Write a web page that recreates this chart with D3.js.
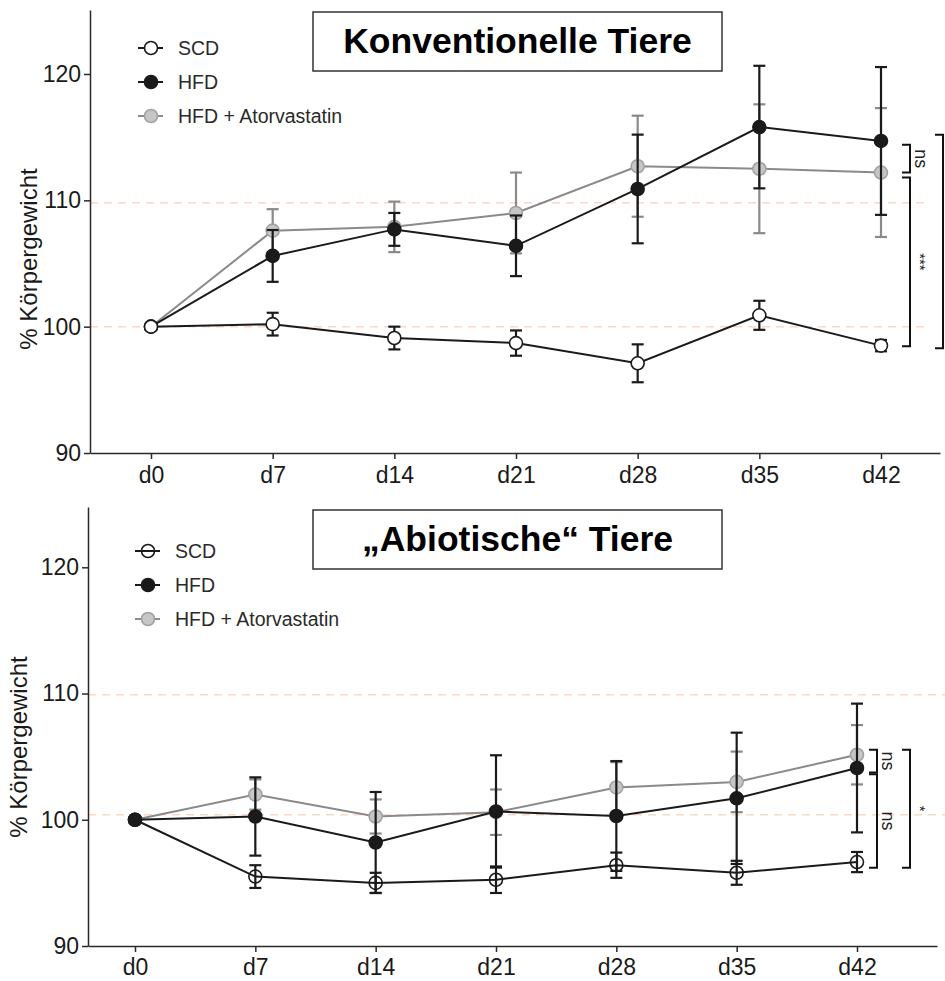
<!DOCTYPE html>
<html>
<head>
<meta charset="utf-8">
<script src="https://cdn.jsdelivr.net/npm/d3@7"></script>
<style>
  body { margin: 0; background: #fff; }
  svg { display: block; font-family: Arial, "Liberation Sans", Helvetica, sans-serif; }
</style>
</head>
<body>
<div id="chart"></div>
<script>
// Tage und Beschriftungen
const days = [0, 7, 14, 21, 28, 35, 42];
const dayLabels = ["d0", "d7", "d14", "d21", "d28", "d35", "d42"];
const yTicks = [90, 100, 110, 120];
const seriesNames = ["SCD", "HFD", "HFD + Atorvastatin"];

// Konventionelle Tiere (Mittelwert / Fehler)
const scdKonv = [100, 100.2, 99.1, 98.7, 97.1, 100.9, 98.5];
const scdKonvErr = [0, 0.9, 0.9, 1.0, 1.5, 1.15, 0.45];
const hfdKonv = [100, 105.6, 107.7, 106.4, 110.9, 115.8, 114.7];
const hfdKonvErr = [0, 2.05, 1.3, 2.4, 4.3, 4.85, 5.85];
const atorKonv = [100, 107.6, 107.9, 109.0, 112.7, 112.5, 112.2];
const atorKonvErr = [0, 1.7, 2.0, 3.2, 4.0, 5.1, 5.1];
const refKonv = [109.8, 100];

// "Abiotische" Tiere
const scdAbio = [100, 95.5, 95.0, 95.25, 96.4, 95.8, 96.65];
const scdAbioErr = [0, 0.9, 0.8, 1.05, 1.0, 0.95, 0.8];
const hfdAbio = [100, 100.26, 98.2, 100.66, 100.3, 101.7, 104.1];
const hfdAbioErr = [0, 3.1, 4.0, 4.45, 4.35, 5.2, 5.1];
const atorAbio = [100, 102.0, 100.26, 100.6, 102.56, 103.0, 105.15];
const atorAbioErr = [0, 1.2, 1.35, 1.8, 2.0, 2.4, 2.35];
const refAbio = [109.9, 100.4];

// Signifikanz-Klammern: von/bis (Wert), Text, Spalte
const bracketsKonv = [
  { from: 114.4, to: 112.2, label: "ns", col: 0 },
  { from: 111.8, to: 98.45, label: "***", col: 0 },
  { from: 115.2, to: 98.3, label: "", col: 1 }
];
const bracketsAbio = [
  { from: 105.55, to: 103.75, label: "ns", col: 0 },
  { from: 103.6, to: 96.2, label: "ns", col: 0 },
  { from: 105.55, to: 96.2, label: "*", col: 1 }
];

const W = 945, H = 981;
const svg = d3.select("#chart").append("svg").attr("width", W).attr("height", H);

const BLACK = "#1a1a1a", GREY_LINE = "#8a8a8a", GREY_FILL = "#c6c6c6", GREY_STROKE = "#a2a2a2";

function panel(cfg) {
  const g = svg.append("g");
  const x = d3.scaleLinear().domain([0, 42]).range([cfg.x0, cfg.x42]);
  const y = d3.scaleLinear().domain([90, 120]).range([cfg.y90, cfg.y120]);

  // Referenzlinien
  g.selectAll(".ref").data(cfg.ref).enter().append("line")
    .attr("x1", cfg.axisLeft).attr("x2", cfg.refRight)
    .attr("y1", d => y(d)).attr("y2", d => y(d))
    .attr("stroke", "#f6d9c8").attr("stroke-width", 1.5)
    .attr("stroke-dasharray", "8,6");

  // Achsen
  const xa = x.copy().domain([x.invert(cfg.axisLeft), x.invert(cfg.axisRight)]).range([cfg.axisLeft, cfg.axisRight]);
  const ya = y.copy().domain([90, y.invert(cfg.axisTop)]).range([cfg.y90, cfg.axisTop]);

  const gx = g.append("g").attr("transform", `translate(0,${cfg.y90})`)
    .call(d3.axisBottom(xa).tickValues(days).tickFormat((d, i) => dayLabels[i])
      .tickSize(6).tickSizeOuter(0).tickPadding(cfg.xPad));
  const gy = g.append("g").attr("transform", `translate(${cfg.axisLeft},0)`)
    .call(d3.axisLeft(ya).tickValues(yTicks).tickSize(6).tickSizeOuter(0).tickPadding(3));
  [gx, gy].forEach(a => {
    a.selectAll("path, line").attr("stroke", "#2a2a2a").attr("stroke-width", 1.5);
    a.selectAll("text").attr("fill", "#1a1a1a").style("font-size", "23px").style("font-family", "Arial, 'Liberation Sans', sans-serif");
  });

  g.append("text")
    .attr("transform", `translate(${cfg.yLabelX},${cfg.yLabelY}) rotate(-90)`)
    .attr("text-anchor", "middle").style("font-size", "24px").attr("fill", "#1a1a1a")
    .text("% Körpergewicht");

  // Titelbox
  g.append("rect").attr("x", 313).attr("y", cfg.boxY).attr("width", 409).attr("height", 59)
    .attr("fill", "#fff").attr("stroke", "#333").attr("stroke-width", 1.5);
  g.append("text").attr("x", 517.5).attr("y", cfg.boxY + 41).attr("text-anchor", "middle")
    .style("font-size", "35.5px").style("font-weight", "bold").attr("fill", "#000")
    .text(cfg.title);

  // Reihen
  const series = [
    { mean: cfg.ator, err: cfg.atorErr, line: GREY_LINE, fill: GREY_FILL, stroke: GREY_STROKE, bar: GREY_LINE },
    { mean: cfg.hfd, err: cfg.hfdErr, line: BLACK, fill: BLACK, stroke: BLACK, bar: BLACK },
    { mean: cfg.scd, err: cfg.scdErr, line: BLACK, fill: cfg.scdFill, stroke: BLACK, bar: BLACK }
  ];
  const line = d3.line().x((d, i) => x(days[i])).y(d => y(d));
  const drawOrder = cfg.hfdOnTop ? [0, 2, 1] : [0, 1, 2];

  drawOrder.forEach(k => {
    const s = series[k];
    const sg = g.append("g");
    sg.append("path").datum(s.mean).attr("d", line).attr("fill", "none")
      .attr("stroke", s.line).attr("stroke-width", 2);
    const eb = sg.selectAll(".eb").data(s.mean.map((m, i) => ({ m, e: s.err[i], d: days[i] })).filter(d => d.e > 0))
      .enter().append("g");
    eb.append("line").attr("x1", d => x(d.d)).attr("x2", d => x(d.d))
      .attr("y1", d => y(d.m + d.e)).attr("y2", d => y(d.m - d.e))
      .attr("stroke", s.bar).attr("stroke-width", 2.2);
    [1, -1].forEach(sign => {
      eb.append("line").attr("x1", d => x(d.d) - 6).attr("x2", d => x(d.d) + 6)
        .attr("y1", d => y(d.m + sign * d.e)).attr("y2", d => y(d.m + sign * d.e))
        .attr("stroke", s.bar).attr("stroke-width", 2.2);
    });
    sg.selectAll("circle").data(s.mean).enter().append("circle")
      .attr("cx", (d, i) => x(days[i])).attr("cy", d => y(d)).attr("r", 6.5)
      .attr("fill", s.fill).attr("stroke", s.stroke).attr("stroke-width", 1.6);
  });

  // Legende
  const legendSeries = [series[2], series[1], series[0]];
  legendSeries.forEach((s, i) => {
    const ly = cfg.legY + i * 34;
    g.append("line").attr("x1", cfg.legX - 13).attr("x2", cfg.legX + 12).attr("y1", ly).attr("y2", ly)
      .attr("stroke", s.line).attr("stroke-width", 2);
    g.append("circle").attr("cx", cfg.legX).attr("cy", ly).attr("r", 6.5)
      .attr("fill", s.fill).attr("stroke", s.stroke).attr("stroke-width", 1.6);
    g.append("text").attr("x", cfg.legX + 27).attr("y", ly).attr("dy", "0.36em")
      .style("font-size", "19.5px").attr("fill", "#2a2a2a").text(seriesNames[i]);
  });

  // Klammern
  cfg.brackets.forEach(b => {
    const bx = cfg.brX[b.col];
    const y1 = y(b.from), y2 = y(b.to);
    g.append("path")
      .attr("d", `M${bx - 8},${y1}H${bx}V${y2}H${bx - 8}`)
      .attr("fill", "none").attr("stroke", "#111").attr("stroke-width", 2);
    if (b.label) {
      g.append("text")
        .attr("transform", `translate(${bx + 5},${(y1 + y2) / 2}) rotate(90)`)
        .attr("text-anchor", "middle")
        .style("font-size", b.label === "ns" ? "18px" : "15px").attr("fill", "#222")
        .text(b.label);
    }
  });
}

panel({
  title: "Konventionelle Tiere", boxY: 12,
  x0: 151, x42: 881, y90: 453, y120: 74, axisLeft: 90, axisRight: 940, axisTop: 10, refRight: 930,
  xPad: 8, yLabelX: 37, yLabelY: 259,
  scd: scdKonv, scdErr: scdKonvErr, hfd: hfdKonv, hfdErr: hfdKonvErr, ator: atorKonv, atorErr: atorKonvErr,
  ref: refKonv, scdFill: "#fff", hfdOnTop: false,
  legX: 151, legY: 48, brackets: bracketsKonv, brX: [910, 943]
});

panel({
  title: "\u201EAbiotische\u201C Tiere", boxY: 510,
  x0: 135, x42: 857, y90: 946, y120: 567.3, axisLeft: 88, axisRight: 937, axisTop: 507, refRight: 945,
  xPad: 7, yLabelX: 27, yLabelY: 747,
  scd: scdAbio, scdErr: scdAbioErr, hfd: hfdAbio, hfdErr: hfdAbioErr, ator: atorAbio, atorErr: atorAbioErr,
  ref: refAbio, scdFill: "none", hfdOnTop: true,
  legX: 148, legY: 551, brackets: bracketsAbio, brX: [877, 910]
});
</script>
</body>
</html>
